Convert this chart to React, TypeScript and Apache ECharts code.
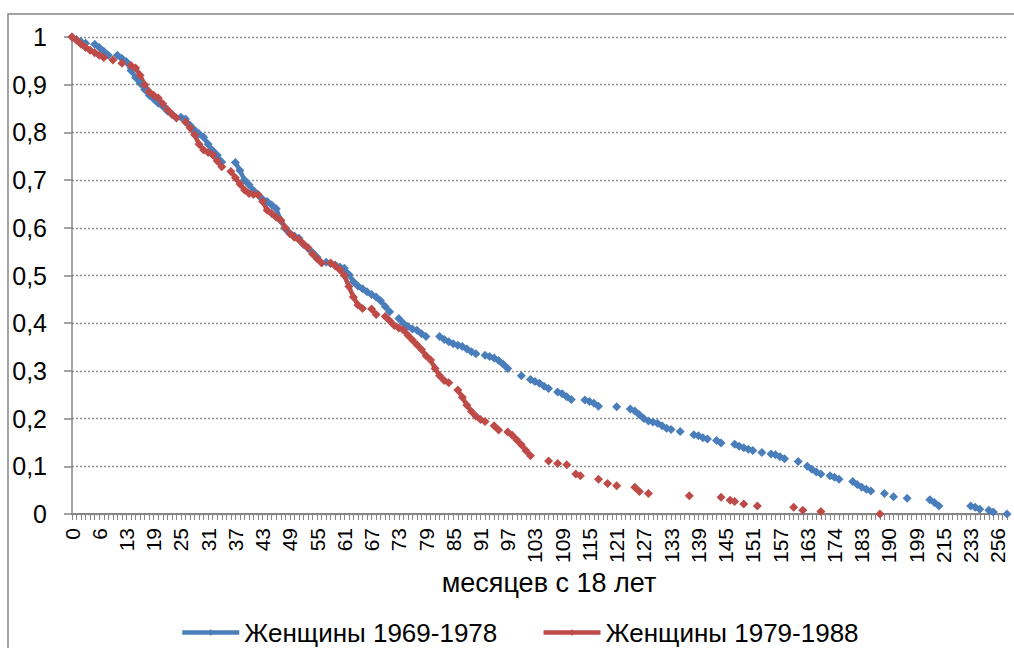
import React, { useEffect, useRef } from "react";
import * as echarts from "echarts";

const _ = null;

// months since age 18 (category axis)
const months = [
  0, 1, 2, 3, 4, 5, 6, 7, 8, 9,
  11, 12, 13, 14, 15, 16, 17, 18, 19, 20,
  21, 22, 23, 24, 25, 26, 27, 28, 29, 30,
  31, 32, 33, 34, 35, 36, 37, 38, 39, 40,
  41, 42, 43, 44, 45, 46, 47, 48, 49, 50,
  51, 52, 53, 54, 55, 56, 57, 58, 59, 60,
  61, 62, 63, 64, 65, 66, 67, 68, 69, 70,
  71, 72, 73, 74, 75, 76, 77, 78, 79, 80,
  81, 82, 83, 84, 85, 86, 87, 88, 89, 90,
  91, 92, 93, 94, 95, 96, 97, 98, 99, 100,
  101, 102, 103, 104, 105, 106, 107, 108, 109, 110,
  111, 112, 113, 114, 115, 116, 117, 118, 119, 120,
  121, 122, 123, 124, 125, 126, 127, 128, 129, 130,
  131, 132, 133, 134, 135, 136, 137, 138, 139, 140,
  141, 142, 143, 144, 145, 146, 147, 148, 149, 150,
  151, 152, 153, 154, 155, 156, 157, 158, 159, 160,
  161, 162, 163, 165, 167, 169, 170, 172, 174, 176,
  177, 179, 180, 182, 183, 184, 185, 186, 188, 189,
  190, 192, 193, 195, 196, 198, 199, 201, 203, 205,
  208, 212, 215, 218, 221, 224, 227, 230, 233, 236,
  239, 243, 248, 252, 256, 262, 270,
];

// Женщины 1969-1978
const women1969 = [
  1.0, 0.995, 0.99, 0.987, _, 0.985, 0.978, 0.97, 0.962, _,
  0.962, 0.955, 0.948, 0.93, 0.915, 0.903, 0.89, 0.878, 0.87, 0.861,
  0.855, 0.845, 0.838, _, 0.832, 0.828, 0.815, 0.805, 0.797, 0.79,
  0.775, 0.762, 0.752, 0.738, _, _, 0.737, 0.72, 0.7, 0.69,
  0.678, 0.67, 0.66, 0.655, 0.648, 0.64, 0.615, 0.598, 0.588, 0.583,
  0.578, 0.565, 0.557, 0.548, 0.538, _, 0.528, 0.525, 0.522, 0.518,
  0.515, 0.502, 0.487, 0.478, 0.472, 0.466, 0.46, 0.455, 0.447, 0.435,
  0.424, _, 0.41, 0.4, 0.393, 0.388, 0.385, 0.378, 0.372, _,
  _, 0.372, 0.366, 0.361, 0.357, 0.354, 0.351, 0.346, 0.34, 0.336,
  _, 0.333, 0.33, 0.327, 0.322, 0.314, 0.305, _, _, 0.29,
  _, 0.282, 0.278, 0.274, 0.268, 0.263, _, 0.256, 0.252, 0.246,
  0.24, _, _, 0.239, 0.236, 0.232, 0.226, _, _, _,
  0.225, _, _, 0.22, 0.216, 0.208, 0.2, 0.195, 0.193, 0.19,
  0.185, 0.18, 0.177, _, 0.173, _, _, 0.166, 0.164, 0.16,
  0.157, _, 0.154, 0.149, _, _, 0.146, 0.142, 0.139, 0.136,
  0.133, _, 0.129, _, 0.126, 0.124, 0.12, 0.116, _, _,
  0.11, _, 0.1, 0.094, 0.088, 0.084, _, 0.08, 0.077, 0.073,
  _, _, 0.068, 0.062, 0.056, 0.052, 0.048, _, _, 0.043,
  _, 0.036, _, _, 0.033, _, _, _, _, 0.03,
  0.024, 0.017, _, _, _, _, _, _, 0.017, 0.014,
  0.01, _, 0.008, 0.004, _, _, 0,
];

// Женщины 1979-1988
const women1979 = [
  1.0, 0.993, 0.985, 0.978, 0.972, 0.967, 0.962, 0.957, _, 0.952,
  _, 0.945, _, 0.94, 0.935, 0.92, 0.9, 0.885, 0.878, 0.872,
  0.86, 0.848, 0.838, 0.83, _, 0.822, 0.81, 0.795, 0.775, 0.763,
  0.758, 0.753, 0.74, 0.728, _, 0.718, 0.705, 0.692, 0.679, 0.672,
  0.67, 0.669, 0.655, 0.637, 0.63, 0.622, 0.616, 0.6, 0.588, 0.58,
  0.575, 0.566, 0.558, 0.545, 0.535, 0.526, _, 0.526, 0.52, 0.512,
  0.5, 0.477, 0.455, 0.438, 0.431, _, 0.43, 0.418, _, 0.414,
  0.405, 0.395, 0.39, 0.386, 0.375, 0.365, 0.355, 0.345, 0.332, 0.323,
  0.305, 0.29, 0.28, 0.275, _, 0.26, 0.245, 0.228, 0.215, 0.205,
  0.198, 0.194, _, 0.185, 0.176, _, 0.172, 0.165, 0.155, 0.145,
  0.133, 0.122, _, _, _, 0.111, _, 0.106, _, 0.103,
  _, 0.084, 0.08, _, _, _, 0.073, _, 0.064, _,
  0.059, _, _, _, 0.056, 0.047, _, 0.043, _, _,
  _, _, _, _, _, _, 0.038, _, _, _,
  _, _, _, 0.035, _, 0.029, 0.026, _, 0.021, _,
  _, 0.017, _, _, _, _, _, _, _, 0.014,
  _, 0.008, _, _, _, 0.005, _, _, _, _,
  _, _, _, _, _, _, _, _, 0, _,
  _, _, _, _, _, _, _, _, _, _,
  _, _, _, _, _, _, _, _, _, _,
  _, _, _, _, _, _, _,
];

const seriesNames = ["Женщины 1969-1978", "Женщины 1979-1988"];
const seriesColors = ["#4A7EBB", "#BE4B48"];
const xTitle = "месяцев с 18 лет";

const FONT = "'Liberation Sans', Arial, sans-serif";

export default function App() {
  const ref = useRef<HTMLDivElement>(null);

  useEffect(() => {
    if (!ref.current) return;
    const chart = echarts.init(ref.current, undefined, { renderer: "svg" });
    const mk = (name: string, data: (number | null)[], color: string) => ({
      name,
      type: "line",
      data,
      symbol: "diamond",
      symbolSize: 9,
      showSymbol: true,
      showAllSymbol: true,
      connectNulls: false,
      lineStyle: { width: 4.5, color },
      itemStyle: { color },
      emphasis: { disabled: true },
    });
    chart.setOption({
      animation: false,
      backgroundColor: "#ffffff",
      textStyle: { fontFamily: FONT },
      graphic: [
        {
          type: "rect",
          shape: { x: 8, y: 14, width: 1040, height: 680 },
          style: { fill: "none", stroke: "#868686", lineWidth: 1.5 },
          silent: true,
        },
        {
          type: "text",
          x: 549,
          y: 583,
          style: {
            text: xTitle,
            fontSize: 27,
            fontFamily: FONT,
            fill: "#000",
            align: "center",
            verticalAlign: "middle",
          },
          silent: true,
        },
      ],
      grid: { left: 72, right: 7, top: 37, bottom: 134, containLabel: false },
      legend: {
        data: seriesNames,
        left: 180,
        top: 619,
        padding: 0,
        itemWidth: 57,
        itemHeight: 8,
        itemGap: 44,
        lineStyle: { width: 4.5 },
        textStyle: { fontSize: 26, lineHeight: 27, color: "#000", fontFamily: FONT },
      },
      xAxis: {
        type: "category",
        data: months.map(String),
        boundaryGap: false,
        axisLine: { lineStyle: { color: "#868686", width: 2 } },
        axisTick: { show: true, interval: 0, length: 6, lineStyle: { color: "#868686", width: 1 } },
        axisLabel: { interval: 5, rotate: 90, fontSize: 21, color: "#000", margin: 14, fontFamily: FONT },
        splitLine: { show: false },
      },
      yAxis: {
        type: "value",
        min: 0,
        max: 1,
        interval: 0.1,
        axisLine: { show: true, lineStyle: { color: "#868686", width: 1.5 } },
        axisTick: { show: true, length: 8, lineStyle: { color: "#868686", width: 1.5 } },
        axisLabel: {
          fontSize: 25,
          color: "#000",
          margin: 25,
          fontFamily: FONT,
          formatter: (v: number) => (v === 0 ? "0" : v === 1 ? "1" : v.toFixed(1).replace(".", ",")),
        },
        splitLine: { show: true, lineStyle: { type: [2, 2], color: "#8c8c8c", width: 1.3 } },
      },
      series: [
        mk(seriesNames[0], women1969, seriesColors[0]),
        mk(seriesNames[1], women1979, seriesColors[1]),
      ],
    });
    return () => chart.dispose();
  }, []);

  return (
    <div
      ref={ref}
      style={{ position: "fixed", left: 0, top: 0, width: 1014, height: 648, background: "#fff" }}
    />
  );
}
